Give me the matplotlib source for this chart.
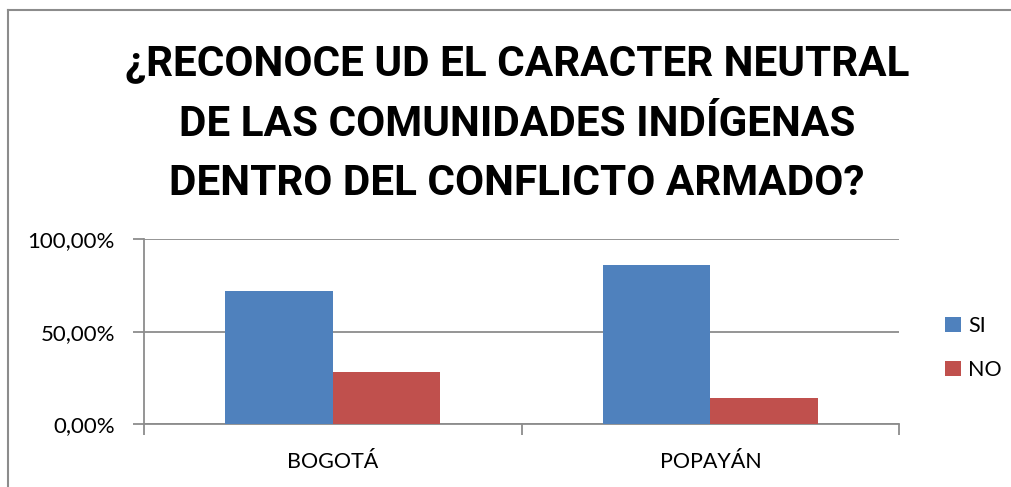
import matplotlib
matplotlib.use("Agg")
import matplotlib.pyplot as plt
from matplotlib.lines import Line2D
from matplotlib.patches import Patch
import numpy as np

categories = ["BOGOTÁ", "POPAYÁN"]
si_values = [72.0, 86.0]
no_values = [28.0, 14.0]
series_labels = ["SI", "NO"]
y_ticks = [0, 50, 100]
y_tick_labels = ["0,00%", "50,00%", "100,00%"]
title_lines = ["¿RECONOCE UD EL CARACTER NEUTRAL",
               "DE LAS COMUNIDADES INDÍGENAS",
               "DENTRO DEL CONFLICTO ARMADO?"]

blue = "#4F81BD"
red = "#C0504D"
gray = "#8C8C8C"

plt.rcParams['font.family'] = ['Lato', 'DejaVu Sans']

fig = plt.figure(figsize=(10.11, 4.87), dpi=100)
ax = fig.add_axes([0.1424, 0.1288, 0.7471, 0.3798])

x = np.arange(len(categories))
w = 0.285
ax.bar(x - w/2, si_values, width=w, color=blue, label=series_labels[0], zorder=3)
ax.bar(x + w/2, no_values, width=w, color=red, label=series_labels[1], zorder=3)

ax.set_xlim(-0.5, len(categories) - 0.5)
ax.set_ylim(0, 100)
ax.set_yticks(y_ticks)
ax.set_yticklabels(y_tick_labels, fontsize=16)
ax.set_xticks(x)
ax.set_xticklabels(categories, fontsize=15.5)
ax.set_xticks(np.arange(-0.5, len(categories)), minor=True)
ax.tick_params(axis='x', which='major', length=0, pad=20)
ax.tick_params(axis='x', which='minor', length=8, width=1.3, color=gray, direction='out')
ax.tick_params(axis='y', length=8, width=1.3, color=gray, direction='out', pad=13)

ax.yaxis.grid(True, color=gray, linewidth=1.3, zorder=0)
for s in ['top', 'right']:
    ax.spines[s].set_visible(False)
for s in ['left', 'bottom']:
    ax.spines[s].set_color(gray)
    ax.spines[s].set_linewidth(1.3)

handles = [Patch(facecolor=blue), Patch(facecolor=red)]
fig.legend(handles, series_labels, loc='center left', bbox_to_anchor=(0.916, 0.285),
           frameon=False, fontsize=15.5, handlelength=0.7, handleheight=0.7,
           handletextpad=0.35, labelspacing=1.1)

title_y = [1 - 64/487, 1 - 124/487, 1 - 183/487]
for line, yy in zip(title_lines, title_y):
    fig.text(517/1011, yy, line, ha='center', va='center', fontsize=30.4, fontweight='bold',
             family=['Roboto', 'DejaVu Sans'])

fig.add_artist(Line2D([8/1011, 8/1011], [0, 1 - 10/487], color=gray, linewidth=1.5))
fig.add_artist(Line2D([8/1011, 1], [1 - 10/487, 1 - 10/487], color=gray, linewidth=1.5))

fig.savefig("out.png", dpi=100)
